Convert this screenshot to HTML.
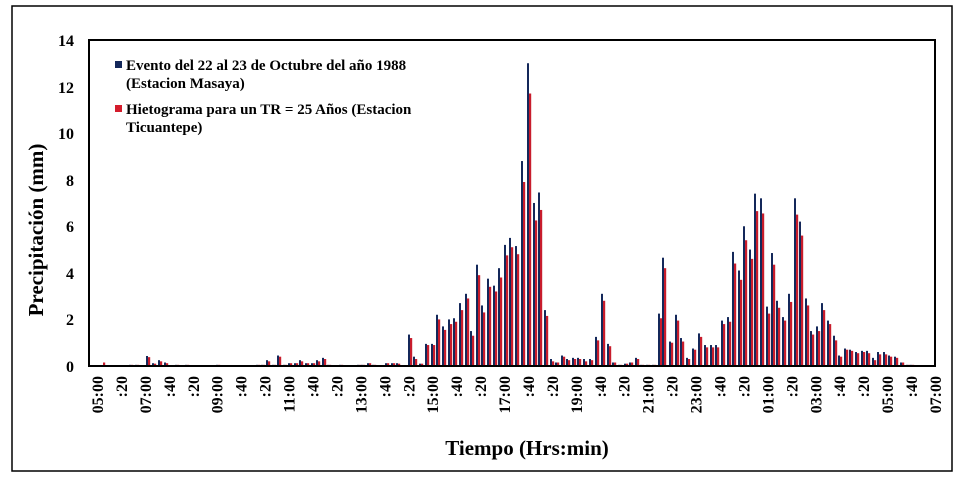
<!DOCTYPE html>
<html><head><meta charset="utf-8"><style>
html,body{margin:0;padding:0;background:#fff;}
svg{display:block;font-family:"Liberation Serif",serif;font-weight:bold;}
</style></head><body>
<svg id="s" width="962" height="481" xmlns="http://www.w3.org/2000/svg">
<rect x="0" y="0" width="962" height="481" fill="#fff"/>
<rect x="12" y="6" width="940" height="465" fill="none" stroke="#000" stroke-width="1.5"/>
<g id="bars"></g>
<rect x="89" y="40" width="846" height="326" fill="none" stroke="#000" stroke-width="2"/>
<g font-size="16" text-anchor="end">
<text x="74" y="372">0</text><text x="74" y="325">2</text><text x="74" y="279">4</text><text x="74" y="232">6</text>
<text x="74" y="186">8</text><text x="74" y="139">10</text><text x="74" y="93">12</text><text x="74" y="46">14</text>
</g>
<g id="xl" font-size="16" text-anchor="end"></g>
<text x="0" y="0" font-size="21" text-anchor="middle" transform="translate(43,230) rotate(-90)">Precipitación (mm)</text>
<text x="527" y="455" font-size="21" text-anchor="middle">Tiempo (Hrs:min)</text>
<rect x="115" y="61" width="7" height="7" fill="#14285a"/>
<text x="126" y="70" font-size="15">Evento del 22 al 23 de Octubre del año 1988</text>
<text x="126" y="88" font-size="15">(Estacion Masaya)</text>
<rect x="115" y="105" width="7" height="7" fill="#d41c2c"/>
<text x="126" y="114" font-size="15">Hietograma para un TR = 25 Años (Estacion</text>
<text x="126" y="132" font-size="15">Ticuantepe)</text>
</svg>
<script>
var d=[[102,0,0.15],[130,0.05,0.05],[136,0.05,0.05],[147,0.43,0.38],[153,0.12,0.1],[159,0.25,0.2],[165,0.15,0.12],[176,0.05,0.05],[186,0.05,0.05],[217,0.05,0.05],[257,0.05,0.05],[262,0.05,0.05],[267,0.25,0.2],[273,0.05,0.05],[278,0.45,0.4],[284,0.05,0.05],[289,0.12,0.12],[295,0.12,0.12],[300,0.25,0.2],[306,0.12,0.12],[312,0.12,0.12],[317,0.25,0.2],[323,0.35,0.3],[328,0.05,0.05],[340,0.05,0.05],[358,0.05,0.05],[362,0.05,0.05],[368,0.12,0.12],[373,0.05,0.05],[386,0.12,0.12],[392,0.12,0.12],[397,0.12,0.1],
[409,1.35,1.2],[414,0.4,0.3],[420,0.1,0.1],[426,0.95,0.9],[432,0.95,0.9],[437,2.2,2.0],[443,1.7,1.55],[449,2.0,1.8],[454,2.05,1.9],[460,2.7,2.4],[466,3.1,2.9],[471,1.5,1.3],[477,4.35,3.9],[482,2.6,2.3],[488,3.75,3.4],[494,3.45,3.2],[499,4.2,3.8],[505,5.2,4.75],[510,5.5,5.1],[516,5.15,4.8],[522,8.8,7.9],[528,13.0,11.7],[534,7.0,6.25],[539,7.45,6.7],[545,2.4,2.15],[551,0.3,0.2],[556,0.15,0.15],[562,0.45,0.4],[567,0.3,0.25],[573,0.35,0.3],[578,0.35,0.3],[584,0.3,0.2],[590,0.3,0.25],[596,1.25,1.1],[602,3.1,2.8],[608,0.95,0.85],[613,0.15,0.15],[619,0.05,0.05],[625,0.1,0.1],[630,0.15,0.15],[636,0.35,0.3],[641,0.05,0.05],[647,0.05,0.05],[653,0.05,0.05],
[659,2.25,2.05],[663,4.65,4.2],[670,1.05,1.0],[676,2.2,1.95],[681,1.2,1.05],[687,0.35,0.3],[693,0.75,0.7],[699,1.4,1.25],[705,0.9,0.8],[711,0.9,0.8],[716,0.9,0.8],[722,1.95,1.8],[728,2.1,1.9],[733,4.9,4.4],[739,4.1,3.7],[744,6.0,5.4],[750,5.0,4.6],[755,7.4,6.65],[761,7.2,6.55],[767,2.55,2.25],[772,4.85,4.35],[777,2.8,2.5],[783,2.1,1.95],[789,3.1,2.75],[795,7.2,6.5],[800,6.2,5.6],[806,2.9,2.6],[811,1.5,1.35],[817,1.7,1.5],[822,2.7,2.4],[828,1.95,1.8],[834,1.3,1.1],[839,0.45,0.4],[845,0.75,0.7],[850,0.7,0.65],[856,0.6,0.55],[862,0.65,0.6],[867,0.65,0.55],[873,0.35,0.25],[878,0.6,0.5],[884,0.6,0.5],[889,0.45,0.4],[895,0.4,0.35],[901,0.15,0.15],[907,0.05,0.05],[911,0.05,0.05]];
var k=23.29,h='';
d.forEach(function(b){
 if(b[1]>0)h+='<rect x="'+(b[0]-1)+'" y="'+(366-b[1]*k)+'" width="2" height="'+(b[1]*k)+'" fill="#14285a"/>';
 if(b[2]>0)h+='<rect x="'+(b[0]+1)+'" y="'+(366-b[2]*k)+'" width="2.2" height="'+(b[2]*k)+'" fill="#c81c2c"/>';
});
document.getElementById('bars').innerHTML=h;
var L=["05:00",":20","07:00",":40",":20","09:00",":40",":20","11:00",":40",":20","13:00",":40",":20","15:00",":40",":20","17:00",":40",":20","19:00",":40",":20","21:00",":20","23:00",":40",":20","01:00",":20","03:00",":40",":20","05:00",":40","07:00"];
var t='';
for(var i=0;i<L.length;i++){var x=97+i*(838/35);t+='<text transform="translate('+(x+6)+',376) rotate(-90)">'+L[i]+'</text>';}
document.getElementById('xl').innerHTML=t;
</script>
</body></html>
